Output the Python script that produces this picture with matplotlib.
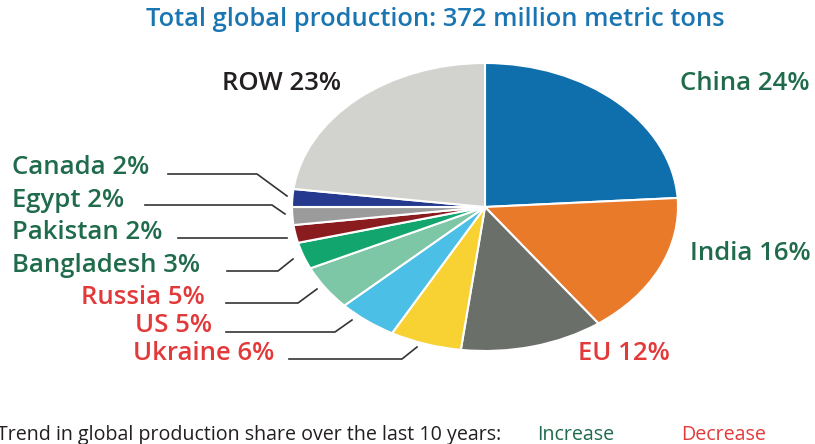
import matplotlib.pyplot as plt

plt.rcParams["font.family"] = ["Open Sans", "DejaVu Sans"]

countries = ["China", "India", "EU", "Ukraine", "US", "Russia", "Bangladesh",
             "Pakistan", "Egypt", "Canada", "ROW"]
shares = [24, 16, 12, 6, 5, 5, 3, 2, 2, 2, 23]
trend = ["up", "up", "down", "down", "down", "down", "up", "up", "up", "up", "none"]
colors = ["#0f6eac", "#e87a2a", "#6b6f69", "#f8d133", "#4bbfe6", "#7dc6a6",
          "#12a56e", "#8a1c1f", "#9b9b9b", "#253a8e", "#d2d2ce"]

GREEN = "#1f6b4c"
RED = "#e2393a"
trend_color = {"up": GREEN, "down": RED, "none": "#231f20"}

W, H = 815, 444
fig = plt.figure(figsize=(W / 100, H / 100), dpi=100)

# pie is drawn as an ellipse (stretched horizontally)
cx, cy, rx, ry = 485, 207, 193, 144
ax = fig.add_axes([(cx - rx) / W, (H - cy - ry) / H, 2 * rx / W, 2 * ry / H])
ax.pie(shares, colors=colors, startangle=90, counterclock=False,
       wedgeprops=dict(edgecolor="white", linewidth=1.5))
ax.set_aspect("auto")
ax.set_xlim(-1, 1)
ax.set_ylim(-1, 1)

# overlay in pixel coords for labels and leader lines
lay = fig.add_axes([0, 0, 1, 1], facecolor="none")
lay.set_xlim(0, W)
lay.set_ylim(H, 0)
lay.axis("off")

fs = 18.5
lay.text(435, 19, "Total global production: 372 million metric tons",
         ha="center", va="center", fontsize=18.4, fontweight="semibold",
         color="#1a76b3")

# label positions: (x, y, ha, leader line points)
layout = {
    "China": (680, 84, "left", None),
    "India": (690, 253, "left", None),
    "EU": (578, 353, "left", None),
    "ROW": (222, 83, "left", None),
    "Canada": (12, 167, "left", [(168, 174), (257, 174), (287, 196)]),
    "Egypt": (12, 200, "left", [(145, 205), (272, 205), (285, 214)]),
    "Pakistan": (12, 232, "left", [(178, 238), (287, 238)]),
    "Bangladesh": (12, 265, "left", [(227, 271), (278, 271), (293, 259)]),
    "Russia": (205, 297, "right", [(226, 303), (298, 303), (317, 289)]),
    "US": (212, 325, "right", [(226, 332), (335, 332), (352, 320)]),
    "Ukraine": (274, 353, "right", [(289, 359), (402, 359), (417, 347)]),
}

for name, s, t in zip(countries, shares, trend):
    x, y, ha, pts = layout[name]
    lay.text(x, y, f"{name} {s}%", ha=ha, va="center", fontsize=fs,
             fontweight="semibold", color=trend_color[t])
    if pts:
        lay.plot([p[0] for p in pts], [p[1] for p in pts], color="#333333", lw=1.2)

lay.text(-3, 435, "Trend in global production share over the last 10 years:",
         ha="left", va="center", fontsize=14.1, color="#231f20")
lay.text(537, 435, "Increase", ha="left", va="center", fontsize=14.1, color=GREEN)
lay.text(681, 435, "Decrease", ha="left", va="center", fontsize=14.1, color=RED)

fig.savefig("out.png", dpi=100)
